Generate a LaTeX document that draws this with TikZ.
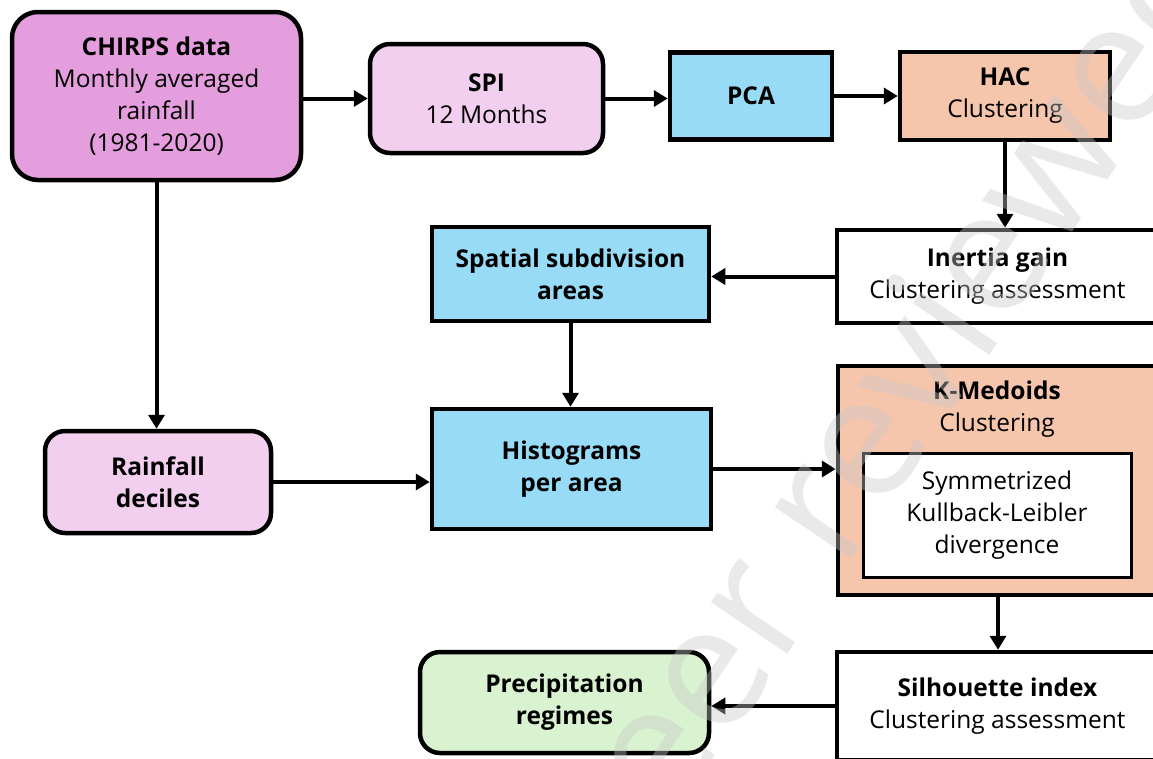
\documentclass[tikz,border=0pt]{standalone}
\usepackage{fontspec}
\setmainfont{Open Sans}
\usetikzlibrary{arrows.meta}
\definecolor{orchid}{HTML}{E59EDD}
\definecolor{lpink}{HTML}{F2CFEE}
\definecolor{lblue}{HTML}{97DBF7}
\definecolor{peach}{HTML}{F6C6AC}
\definecolor{lgreen}{HTML}{D9F2D0}
\definecolor{wm}{HTML}{C8C8C8}
\begin{document}
\begin{tikzpicture}[x=1pt,y=-1pt,
  font=\fontsize{24.5}{32}\selectfont,
  box/.style={draw=black, line width=4.5pt, align=center, inner sep=0pt},
  rbox/.style={box, rounded corners=20pt},
  txt/.style={align=center, inner sep=0pt},
  arr/.style={line width=4pt, -{Triangle[length=14pt,width=16pt]}}]
\useasboundingbox (0,0) rectangle (1153,758);
\clip (0,0) rectangle (1153,758);
\fill[white] (0,0) rectangle (1153,758);

\node[rbox, fill=orchid, minimum width=289pt, minimum height=168pt, rounded corners=26pt] (chirps) at (156.5,96)
  {\textbf{CHIRPS data}\\Monthly averaged\\rainfall\\(1981-2020)};
\node[rbox, fill=lpink, minimum width=233pt, minimum height=109pt] (spi) at (486.5,98.5)
  {\textbf{SPI}\\12 Months};
\node[box, fill=lblue, minimum width=162pt, minimum height=87pt] (pca) at (751,96)
  {\textbf{PCA}};
\node[box, fill=peach, minimum width=210pt, minimum height=88pt] (hac) at (1005,96)
  {\textbf{HAC}\\Clustering};
\node[box, fill=white, minimum width=321pt, minimum height=93pt] (inertia) at (997.5,276.5)
  {\textbf{Inertia gain}\\Clustering assessment};
\node[box, fill=lblue, minimum width=277pt, minimum height=94pt] (spatial) at (570.5,274)
  {\textbf{Spatial subdivision}\\\textbf{areas}};
\node[box, fill=lblue, minimum width=279pt, minimum height=120pt] (hist) at (571.5,469)
  {\textbf{Histograms}\\\textbf{per area}};
\node[rbox, fill=lpink, minimum width=226pt, minimum height=102pt] (rain) at (158,482)
  {\textbf{Rainfall}\\\textbf{deciles}};
\node[box, fill=peach, minimum width=320pt, minimum height=229pt] (kmed) at (998,480.5) {};
\node[txt] (kmedt) at (997,409) {\textbf{K-Medoids}\\Clustering};
\node[box, fill=white, line width=3pt, minimum width=268pt, minimum height=124pt] (inner) at (997,515)
  {Symmetrized\\Kullback-Leibler\\divergence};
\node[box, fill=white, minimum width=321pt, minimum height=108pt] (sil) at (997.5,706)
  {\textbf{Silhouette index}\\Clustering assessment};
\node[rbox, fill=lgreen, minimum width=289pt, minimum height=101pt] (precip) at (564.5,702.5)
  {\textbf{Precipitation}\\\textbf{regimes}};

\draw[arr] (spi.west -| chirps.east) -- (spi.west);
\draw[arr] (spi.east) -- (spi.east -| pca.west);
\draw[arr] (pca.east) -- (pca.east -| hac.west);
\draw[arr] (hac.south) -- (hac.south |- inertia.north);
\draw[arr] (inertia.west) -- (inertia.west -| spatial.east);
\draw[arr] (spatial.south) -- (spatial.south |- hist.north);
\draw[arr] (chirps.south) -- (chirps.south |- rain.north);
\draw[arr] (rain.east) -- (rain.east -| hist.west);
\draw[arr] (hist.east) -- (hist.east -| kmed.west);
\draw[arr] (kmed.south) -- (kmed.south |- sil.north);
\draw[arr] (sil.west) -- (sil.west -| precip.east);

\node[rotate=56, text=wm, opacity=0.4, inner sep=0pt, font=\fontsize{172}{172}\selectfont] (wmark) at (892,420) {peer reviewed};
\end{tikzpicture}
\end{document}
